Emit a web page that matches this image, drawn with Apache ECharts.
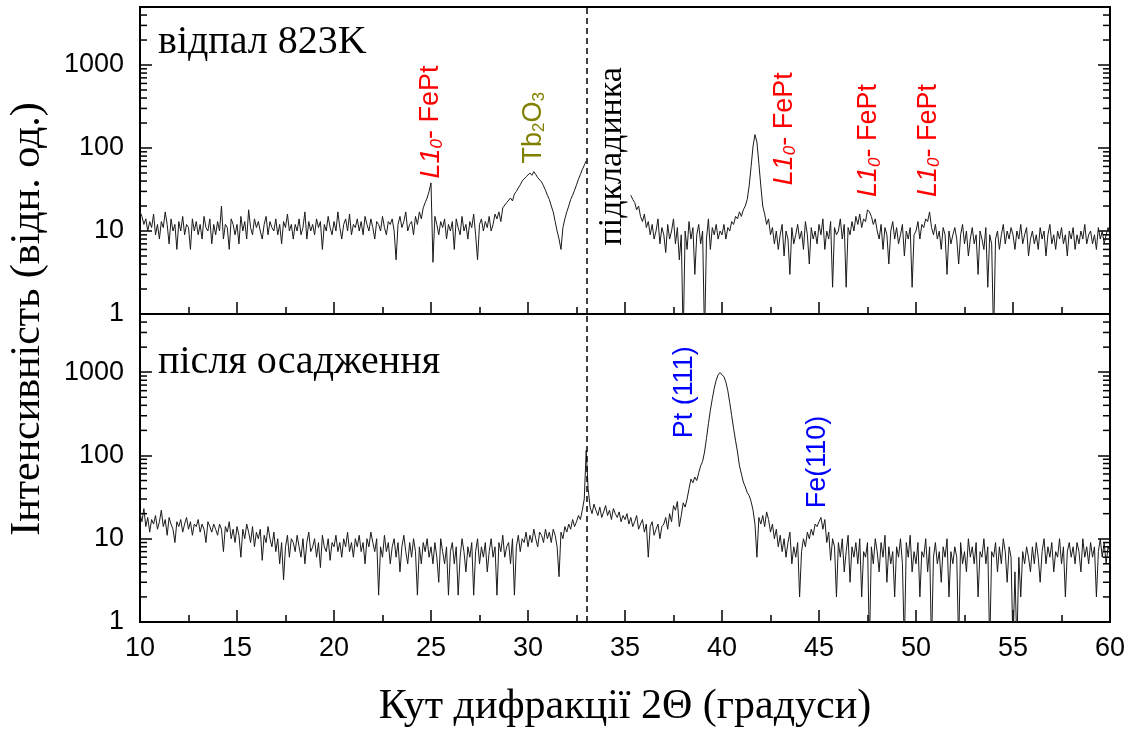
<!DOCTYPE html>
<html>
<head>
<meta charset="utf-8">
<script src="https://cdn.jsdelivr.net/npm/echarts@6/dist/echarts.min.js"></script>
<style>
  html, body { margin: 0; padding: 0; background: #fff; }
  #chart { width: 1135px; height: 735px; }
</style>
</head>
<body>
<div id="chart"></div>
<script>
// Diffraction scans sampled every 0.1 deg of 2-theta, starting at 10 deg.
const angleStart = 10;
const angleStep = 0.1;

// Annealed at 823 K; the substrate reflection window (33.1..35.2) is cut out.
const annealed = [
  17, 15, 12, 14, 10, 13, 11, 16, 9, 12,
  8, 13, 11, 17, 12, 7, 14, 10, 12, 6,
  13, 10, 15, 9, 12, 11, 6, 14, 10, 13,
  9, 12, 8, 15, 11, 10, 14, 7, 12, 9,
  13, 10, 20, 8, 12, 11, 6, 14, 12, 9,
  12, 7, 15, 10, 13, 8, 18, 11, 9, 14,
  11, 13, 10, 8, 12, 15, 9, 13, 11, 10,
  14, 9, 12, 7, 13, 11, 16, 10, 12, 8,
  12, 10, 14, 9, 11, 17, 8, 13, 10, 12,
  9, 14, 11, 13, 6, 12, 10, 15, 11, 9,
  13, 10, 17, 11, 8, 12, 14, 10, 16, 9,
  12, 11, 14, 10, 13, 9, 15, 12, 10, 14,
  11, 8, 13, 12, 10, 15, 11, 9, 13, 12,
  14, 10, 4.5, 12, 15, 11, 13, 17, 10, 12,
  13, 9, 15, 12, 17, 14, 19, 22, 25, 30,
  38, 4.2, 15, 12, 9, 13, 11, 14, 8, 12,
  10, 13, 6, 14, 11, 9, 15, 10, 12, 8,
  13, 11, 16, 9, 4.5, 12, 14, 10, 13, 11,
  15, 10, 12, 16, 14, 17, 13, 19, 18, 22,
  21, 25, 23, 28, 30, 33, 36, 40, 38, 45,
  43, 50, 47, 52, 48, 44, 46, 39, 35, 31,
  27, 24, 20, 17, 13, 10, 8, 6, 11, 14,
  17, 20, 24, 27, 31, 36, 42, 48, 55, 62,
  70, null, null, null, null, null, null, null, null, null,
  null, null, null, null, null, null, null, null, null, null,
  null, null, null, 27, 24, 22, 18, 20, 15, 13,
  16, 11, 13, 9, 12, 8, 10, 14, 7, 11,
  9, 5.5, 12, 8, 10, 14, 7, 11, 4.5, 9,
  0.5, 10, 6, 13, 8, 11, 3, 9, 12, 7,
  10, 0.5, 8, 14, 6, 11, 9, 12, 8, 10,
  9, 12, 8, 11, 10, 13, 12, 15, 14, 17,
  15, 18, 20, 24, 35, 60, 105, 145, 118, 65,
  35, 20, 16, 12, 14, 9, 11, 7, 10, 6,
  9, 12, 5, 10, 8, 3, 11, 7, 9, 12,
  8, 10, 6, 13, 9, 4, 11, 8, 10, 7,
  12, 9, 14, 6, 10, 8, 13, 2.1, 11, 9,
  10, 14, 8, 12, 2.1, 11, 9, 13, 10, 15,
  12, 16, 11, 14, 13, 18, 17, 15, 12, 14,
  10, 8, 12, 6, 11, 9, 4, 10, 13, 8,
  11, 7, 9, 12, 5, 10, 8, 11, 2.1, 9,
  10, 13, 8, 12, 11, 14, 13, 17, 11, 9,
  12, 8, 10, 6, 11, 9, 3, 10, 7, 9,
  11, 8, 4, 9, 12, 7, 10, 5, 8, 11,
  7, 9, 3, 10, 8, 6, 11, 2.1, 9, 7,
  0.5, 8, 10, 6, 9, 12, 7, 10, 8, 11,
  9, 6, 10, 8, 12, 7, 9, 11, 5, 8,
  10, 7, 9, 6, 11, 8, 10, 5, 9, 12,
  7, 9, 6, 10, 8, 11, 7, 9, 5, 10,
  8, 11, 6, 9, 7, 10, 8, 12, 7, 9,
  10, 7, 9, 6, 11, 8, 10, 7, 9, 11,
  9
];

// As deposited.
const asDeposited = [
  20, 16, 23, 14, 18, 12, 17, 15, 19, 13,
  16, 22, 14, 17, 11, 18, 15, 13, 9, 16,
  14, 17, 12, 15, 18, 13, 16, 11, 15, 14,
  17, 12, 15, 13, 9, 16, 14, 12, 15, 13,
  11, 15, 13, 7, 14, 12, 16, 10, 13, 9,
  14, 11, 6, 13, 10, 15, 12, 9, 14, 8,
  12, 10, 13, 5.5, 11, 9, 14, 10, 8, 12,
  7, 10, 5, 9, 3.2, 8, 11, 6, 10, 9,
  7, 11, 8, 6, 10, 5, 9, 12, 7, 8,
  10, 6, 9, 4.5, 11, 8, 7, 10, 5.5, 9,
  8, 11, 7, 9, 6, 10, 8, 12, 7, 9,
  6, 10, 8, 11, 7, 9, 5, 10, 8, 12,
  9, 7, 10, 2.1, 8, 6, 11, 7, 9, 5,
  8, 10, 6, 9, 4, 8, 11, 7, 5, 9,
  6, 10, 7, 2.1, 8, 5, 9, 7, 10, 6,
  8, 5, 9, 6, 3, 10, 7, 5, 8, 2.1,
  7, 9, 5, 8, 2.1, 6, 10, 7, 4, 8,
  6, 9, 2.1, 7, 10, 5, 8, 6, 9, 4,
  7, 10, 6, 8, 2.1, 9, 7, 11, 6, 8,
  9, 5, 10, 2.1, 8, 11, 7, 10, 9, 12,
  8, 11, 9, 13, 10, 8, 12, 11, 9, 13,
  10, 12, 9, 13, 11, 8, 3.5, 12, 10, 14,
  12, 15, 13, 17, 14, 16, 19, 17, 22, 30,
  115, 40, 24, 20, 26, 22, 19, 24, 18, 21,
  25, 19, 22, 17, 23, 20, 18, 21, 16, 19,
  17, 20, 15, 18, 14, 16, 19, 13, 15, 17,
  12, 15, 6, 14, 16, 11, 13, 15, 10, 14,
  15, 18, 13, 20, 16, 25, 22, 28, 14, 19,
  27, 24, 30, 40, 52, 47, 55, 50, 62, 75,
  85, 110, 160, 240, 350, 480, 640, 800, 930, 990,
  960, 880, 760, 600, 430, 300, 210, 150, 110, 75,
  60, 48, 42, 36, 33, 28, 22, 15, 6, 18,
  15, 19, 14, 21, 17, 12, 15, 10, 13, 8,
  11, 7, 10, 6, 9, 12, 5, 8, 6, 9,
  2, 7, 10, 8, 12, 10, 13, 11, 15, 14,
  16, 18, 13, 17, 9, 12, 5.5, 10, 8, 2,
  9, 6, 10, 4, 7, 11, 3, 8, 6, 9,
  5, 10, 2, 7, 6, 9, 0.5, 8, 5, 10,
  7, 4, 9, 6, 11, 3, 8, 5, 7, 2,
  8, 6, 10, 5, 0.5, 9, 6, 11, 4, 7,
  5, 9, 2, 7, 6, 10, 4, 8, 0.5, 6,
  9, 5, 7, 3, 8, 6, 10, 2, 7, 5,
  8, 6, 0.5, 9, 5, 7, 4, 10, 6, 8,
  5, 9, 2, 7, 6, 10, 5, 8, 0.5, 7,
  6, 9, 4, 8, 5, 10, 7, 3, 8, 6,
  0.5, 4, 0.5, 6, 2, 7, 5, 8, 6, 4,
  8, 5, 9, 6, 3, 7, 10, 5, 8, 6,
  9, 4, 7, 6, 10, 5, 8, 2, 7, 9,
  6, 8, 5, 9, 7, 4, 10, 6, 8, 5,
  9, 6, 8, 2, 7, 10, 6, 9, 5, 8,
  7
];

const xTicks = [10, 15, 20, 25, 30, 35, 40, 45, 50, 55, 60];
const yTickLabels = [1, 10, 100, 1000];
const yMinorTicks = [2, 3, 4, 5, 6, 7, 8, 9, 20, 30, 40, 50, 60, 70, 80, 90,
  200, 300, 400, 500, 600, 700, 800, 900, 2000, 3000, 4000];
const substrateAngle = 33.05;

// Peak assignments: angle, intensity at the start of the label, rich text.
const annealedNotes = [
  { angle: 25.0, at: 43, text: '{ri|L1}{rs|0}{rn|- FePt}' },
  { angle: 30.27, at: 65, text: '{on|Tb}{os|2}{on|O}{os|3}' },
  { angle: 34.35, at: 6.7, text: '{ks|підкладинка}' },
  { angle: 43.2, at: 35.6, text: '{ri|L1}{rs|0}{rn|- FePt}' },
  { angle: 47.54, at: 25.7, text: '{ri|L1}{rs|0}{rn|- FePt}' },
  { angle: 50.63, at: 25.7, text: '{ri|L1}{rs|0}{rn|- FePt}' }
];
const depositedNotes = [
  { angle: 38.09, at: 161, text: '{bn|Pt (111)}' },
  { angle: 44.92, at: 23.2, text: '{bn|Fe(110)}' }
];

const SANS = '"Liberation Sans", Arial, sans-serif';
const SERIF = '"Liberation Serif", "Times New Roman", serif';
const INK = '#000';

function toPairs(values) {
  return values.map((v, i) => [Math.round((angleStart + i * angleStep) * 100) / 100, v]);
}

function xAxisFor(gridIndex, withLabels) {
  const axis = {
    type: 'value', gridIndex, min: xTicks[0], max: xTicks[xTicks.length - 1], interval: 5,
    axisLine: { show: true, onZero: false, lineStyle: { color: INK, width: 2 } },
    axisTick: { show: true, inside: true, length: 12, lineStyle: { color: INK, width: 1.5 } },
    minorTick: { show: true, splitNumber: 2, length: 7, lineStyle: { color: INK, width: 1.5 } },
    splitLine: { show: false },
    axisLabel: { show: withLabels, color: INK, fontFamily: SANS, fontSize: 27, margin: 13 }
  };
  if (withLabels) {
    axis.name = 'Кут дифракції 2Θ (градуси)';
    axis.nameLocation = 'middle';
    axis.nameGap = 64;
    axis.nameTextStyle = { fontFamily: SERIF, fontSize: 42, color: INK };
  }
  return axis;
}

function yAxisFor(gridIndex, position) {
  return {
    type: 'log', logBase: 10, gridIndex, position, min: 1, max: 5000,
    axisLine: { show: true, onZero: false, lineStyle: { color: INK, width: 2 } },
    axisTick: { show: true, inside: true, length: 12, lineStyle: { color: INK, width: 1.5 } },
    splitLine: { show: false },
    axisLabel: {
      show: position === 'left', color: INK, fontFamily: SANS, fontSize: 27, margin: 16,
      formatter: (v) => {
        const r = Math.round(v);
        return yTickLabels.includes(r) && Math.abs(v - r) < 1e-6 * r ? String(r) : '';
      }
    }
  };
}

function curve(values, axisIndex) {
  return {
    type: 'line', xAxisIndex: axisIndex, yAxisIndex: axisIndex * 2,
    data: toPairs(values), showSymbol: false, symbol: 'none', connectNulls: false,
    lineStyle: { color: '#1a1a1a', width: 1 }, clip: true, silent: true, z: 2,
    markLine: {
      silent: true, symbol: ['none', 'none'], label: { show: false },
      lineStyle: { color: INK, width: 1.5, type: [6, 4] },
      data: [{ xAxis: substrateAngle }]
    }
  };
}

// Log-decade minor ticks on the left and right frame edges.
function minorTicks(axisIndex) {
  return {
    type: 'custom', xAxisIndex: axisIndex, yAxisIndex: axisIndex * 2, silent: true, clip: false, z: 3,
    data: yMinorTicks.map(v => [xTicks[0], v]),
    encode: { x: 0, y: 1 },
    renderItem: (params, api) => {
      const a = api.coord([xTicks[0], api.value(1)]);
      const b = api.coord([xTicks[xTicks.length - 1], api.value(1)]);
      const style = { stroke: INK, lineWidth: 1.5 };
      return {
        type: 'group', children: [
          { type: 'line', shape: { x1: a[0], y1: a[1], x2: a[0] + 7, y2: a[1] }, style },
          { type: 'line', shape: { x1: b[0], y1: b[1], x2: b[0] - 7, y2: b[1] }, style }
        ]
      };
    }
  };
}

const RED = '#ff0000', OLIVE = '#808000', BLUE = '#0000ff';
const rich = {
  ri: { color: RED, fontFamily: SANS, fontSize: 27, fontStyle: 'italic', lineHeight: 30 },
  rs: { color: RED, fontFamily: SANS, fontSize: 17, fontStyle: 'italic', lineHeight: 12, verticalAlign: 'bottom' },
  rn: { color: RED, fontFamily: SANS, fontSize: 27, lineHeight: 30 },
  on: { color: OLIVE, fontFamily: SANS, fontSize: 27, lineHeight: 30 },
  os: { color: OLIVE, fontFamily: SANS, fontSize: 17, lineHeight: 12, verticalAlign: 'bottom' },
  bn: { color: BLUE, fontFamily: SANS, fontSize: 27, lineHeight: 30 },
  ks: { color: INK, fontFamily: SERIF, fontSize: 34, lineHeight: 34 }
};

function notes(list, axisIndex) {
  return {
    type: 'scatter', xAxisIndex: axisIndex, yAxisIndex: axisIndex * 2, silent: true, z: 5,
    symbolSize: 1, itemStyle: { color: 'rgba(0,0,0,0)' },
    data: list.map(n => [n.angle, n.at]),
    label: {
      show: true, position: 'inside', rotate: 90, align: 'left', verticalAlign: 'middle',
      opacity: 1, textBorderWidth: 0, textBorderColor: 'transparent',
      formatter: (p) => list[p.dataIndex].text, rich
    }
  };
}

const chart = echarts.init(document.getElementById('chart'), null, { renderer: 'canvas' });
chart.setOption({
  animation: false,
  backgroundColor: '#fff',
  title: [
    { text: 'відпал 823K', left: 158, top: 22, padding: 0,
      textStyle: { fontFamily: SERIF, fontSize: 40, fontWeight: 'normal', color: INK } },
    { text: 'після осадження', left: 158, top: 342, padding: 0,
      textStyle: { fontFamily: SERIF, fontSize: 40, fontWeight: 'normal', color: INK } }
  ],
  graphic: [{
    type: 'text', x: 28, y: 319, rotation: Math.PI / 2, silent: true,
    style: { text: 'Інтенсивність (відн. од.)', fontFamily: SERIF, fontSize: 42, fill: INK,
      align: 'center', verticalAlign: 'middle' }
  }],
  grid: [
    { left: 140, right: 25, top: 7, height: 307, show: true, borderColor: INK, borderWidth: 2, backgroundColor: 'transparent' },
    { left: 140, right: 25, top: 314, height: 308, show: true, borderColor: INK, borderWidth: 2, backgroundColor: 'transparent' }
  ],
  xAxis: [xAxisFor(0, false), xAxisFor(1, true)],
  yAxis: [yAxisFor(0, 'left'), yAxisFor(0, 'right'), yAxisFor(1, 'left'), yAxisFor(1, 'right')],
  series: [
    curve(annealed, 0),
    curve(asDeposited, 1),
    minorTicks(0),
    minorTicks(1),
    notes(annealedNotes, 0),
    notes(depositedNotes, 1)
  ]
});
</script>
</body>
</html>
